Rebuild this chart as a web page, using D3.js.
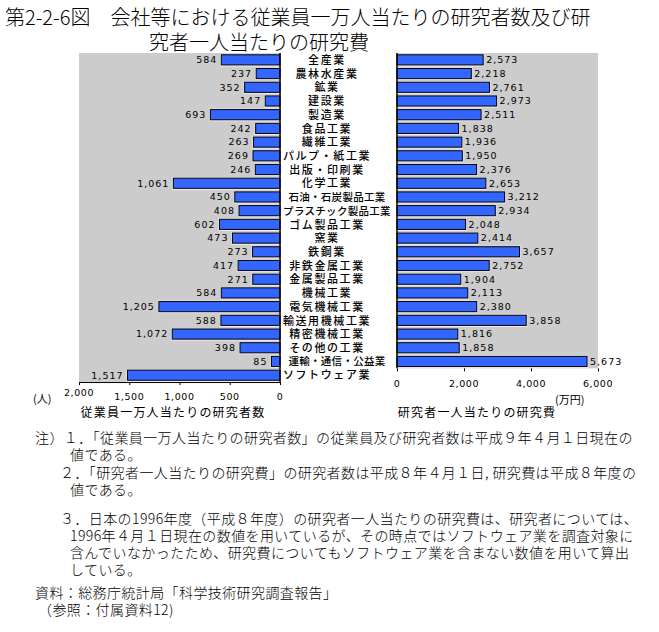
<!DOCTYPE html>
<html><head><meta charset="utf-8">
<script src="https://cdn.jsdelivr.net/npm/d3@7"></script>
<style>
body{margin:0;background:#fff}
svg{display:block}
text{font-family:"Noto Sans CJK JP","Noto Sans",sans-serif;fill:#000}
</style>
</head><body>
<svg id="c" width="659" height="632"></svg>
<script>
const categories = ["全産業","農林水産業","鉱業","建設業","製造業","食品工業","繊維工業","パルプ・紙工業","出版・印刷業","化学工業","石油・石炭製品工業","プラスチック製品工業","ゴム製品工業","窯業","鉄鋼業","非鉄金属工業","金属製品工業","機械工業","電気機械工業","輸送用機械工業","精密機械工業","その他の工業","運輸・通信・公益業","ソフトウェア業"];
const researchersPer10k = [584,237,352,147,693,242,263,269,246,1061,450,408,602,473,273,417,271,584,1205,588,1072,398,85,1517];
const costPerResearcher = [2573,2218,2761,2973,2511,1838,1936,1950,2376,2653,3212,2934,2048,2414,3657,2752,1904,2113,2380,3858,1816,1858,5673];
const leftTicks = [0,500,1000,1500,2000];
const rightTicks = [0,2000,4000,6000];
const titleLines = ["第2-2-6図　会社等における従業員一万人当たりの研究者数及び研","究者一人当たりの研究費"];
const leftAxisTitle = "従業員一万人当たりの研究者数";
const rightAxisTitle = "研究者一人当たりの研究費";
const leftUnit = "(人)";
const rightUnit = "(万円)";
const noteLines = [
 "注）１．「従業員一万人当たりの研究者数」の従業員及び研究者数は平成９年４月１日現在の",
 "値である。",
 "２．「研究者一人当たりの研究費」の研究者数は平成８年４月１日, 研究費は平成８年度の",
 "値である。",
 "３．日本の1996年度（平成８年度）の研究者一人当たりの研究費は、研究者については、",
 "1996年４月１日現在の数値を用いているが、その時点ではソフトウェア業を調査対象に",
 "含んでいなかったため、研究費についてもソフトウェア業を含まない数値を用いて算出",
 "している。",
 "資料：総務庁統計局「科学技術研究調査報告」",
 "（参照：付属資料12)"
];

const svg = d3.select("#c");
const fmt = d3.format(",");

// title
svg.append("text").attr("x",5).attr("y",25).style("font-size","20px").style("font-weight","300").text(titleLines[0]);
svg.append("text").attr("x",149).attr("y",50).style("font-size","20px").style("font-weight","300").text(titleLines[1]);

const topY = 53, step = 13.71;
const xL = d3.scaleLinear().domain([0,2000]).range([280,79]);
const xR = d3.scaleLinear().domain([0,6000]).range([397,598]);
const yL = d3.scaleBand().domain(categories).range([topY, topY+step*categories.length]).paddingInner(0.26).paddingOuter(0.13);
const rightCats = categories.slice(0,costPerResearcher.length);
const yR = d3.scaleBand().domain(rightCats).range([topY, topY+step*rightCats.length]).paddingInner(0.26).paddingOuter(0.13);

const leftData = categories.map((c,i)=>({c, v:researchersPer10k[i]}));
const rightData = rightCats.map((c,i)=>({c, v:costPerResearcher[i]}));

// panels
svg.append("rect").attr("x",xL(2000)).attr("y",yL.range()[0]).attr("width",xL(0)-xL(2000)).attr("height",yL.range()[1]-yL.range()[0]).attr("fill","#cccccc");
svg.append("rect").attr("x",xR(0)).attr("y",yR.range()[0]).attr("width",xR(6000)-xR(0)).attr("height",yR.range()[1]-yR.range()[0]).attr("fill","#cccccc");

// left bars
const gL = svg.append("g");
gL.selectAll("rect.h").data(leftData).join("rect").attr("class","h")
  .attr("x",d=>xL(d.v)-1).attr("y",d=>yL(d.c)-1).attr("width",d=>xL(0)-xL(d.v)+1).attr("height",yL.bandwidth()+2.5).attr("fill","#f4eef4");
gL.selectAll("rect.b").data(leftData).join("rect").attr("class","b")
  .attr("x",d=>xL(d.v)).attr("y",d=>yL(d.c)).attr("width",d=>xL(0)-xL(d.v)).attr("height",yL.bandwidth())
  .attr("fill","#3366ff").attr("stroke","#000").attr("stroke-width",1);
gL.selectAll("text").data(leftData).join("text")
  .attr("x",d=>xL(d.v)-4).attr("y",d=>yL(d.c)+yL.bandwidth()/2).attr("dy","0.35em")
  .attr("text-anchor","end").style("font-size","9.5px").style("font-family","DejaVu Sans").style("letter-spacing","1px")
  .text(d=>fmt(d.v));

// right bars
const gR = svg.append("g");
gR.selectAll("rect.h").data(rightData).join("rect").attr("class","h")
  .attr("x",xR(0)).attr("y",d=>yR(d.c)-1).attr("width",d=>xR(d.v)-xR(0)+1).attr("height",yR.bandwidth()+2.5).attr("fill","#f4eef4");
gR.selectAll("rect.b").data(rightData).join("rect").attr("class","b")
  .attr("x",xR(0)).attr("y",d=>yR(d.c)).attr("width",d=>xR(d.v)-xR(0)).attr("height",yR.bandwidth())
  .attr("fill","#3366ff").attr("stroke","#000").attr("stroke-width",1);
gR.selectAll("text").data(rightData).join("text")
  .attr("x",d=>xR(d.v)+3).attr("y",d=>yR(d.c)+yR.bandwidth()/2).attr("dy","0.35em")
  .attr("text-anchor","start").style("font-size","9.5px").style("font-family","DejaVu Sans").style("letter-spacing","1px")
  .text(d=>fmt(d.v));

// zero lines
svg.append("line").attr("x1",xL(0)).attr("x2",xL(0)).attr("y1",yL.range()[0]).attr("y2",yL.range()[1]).attr("stroke","#000").attr("stroke-width",1.5);
svg.append("line").attr("x1",xR(0)).attr("x2",xR(0)).attr("y1",yR.range()[0]).attr("y2",yR.range()[1]).attr("stroke","#000").attr("stroke-width",1.5);

// category labels
svg.append("g").selectAll("text").data(categories).join("text")
  .attr("x",d=>327 + (d.length>=9?10:0)).attr("y",d=>yL(d)+yL.bandwidth()/2).attr("dy","0.38em")
  .attr("text-anchor","middle")
  .style("font-size",d=>d.length>=9?"10.5px":"11px")
  .style("letter-spacing",d=>d.length>=9?"0.3px":"1.6px")
  .style("font-weight","500")
  .text(d=>d);

// left axis
const axL = d3.axisBottom(xL).tickValues(leftTicks).tickSize(3).tickSizeOuter(3).tickFormat(()=> "");
svg.append("g").attr("transform",`translate(0,${yL.range()[1]})`).call(axL)
  .call(g=>g.selectAll("path,line").attr("stroke","#000"));
svg.append("g").selectAll("text").data(leftTicks).join("text")
  .attr("x",d=>xL(d)).attr("y",d=>d===2000?396:400).attr("text-anchor","middle")
  .style("font-size","9.5px").style("font-family","DejaVu Sans").style("letter-spacing","0.6px")
  .text(d=>fmt(d));

// right axis ticks
const axR = d3.axisBottom(xR).tickValues(rightTicks).tickSize(3).tickSizeOuter(0).tickFormat(()=> "");
svg.append("g").attr("transform",`translate(0,${yR.range()[1]})`).call(axR)
  .call(g=>g.select(".domain").remove())
  .call(g=>g.selectAll("line").attr("stroke","#000"));
svg.append("g").selectAll("text").data(rightTicks).join("text")
  .attr("x",d=>xR(d)).attr("y",387).attr("text-anchor","middle")
  .style("font-size","9.5px").style("font-family","DejaVu Sans").style("letter-spacing","0.6px")
  .text(d=>fmt(d));

// axis titles
svg.append("text").attr("x",33).attr("y",403).style("font-size","11px").text(leftUnit);
svg.append("text").attr("x",555).attr("y",404).style("font-size","11px").text(rightUnit);
svg.append("text").attr("x",173).attr("y",417).attr("text-anchor","middle").style("font-size","12px").style("letter-spacing","1.2px").text(leftAxisTitle);
svg.append("text").attr("x",477).attr("y",417).attr("text-anchor","middle").style("font-size","12px").style("letter-spacing","1.2px").text(rightAxisTitle);

// notes
const noteX = [35,70,60,70,60,70,70,70,35,38];
const noteY = [443,460,478,495,524,541,558,575,598,615];
svg.append("g").selectAll("text").data(noteLines).join("text")
  .attr("x",(d,i)=>noteX[i]).attr("y",(d,i)=>noteY[i])
  .style("font-size","14px").style("letter-spacing","0.4px").style("font-weight","300")
  .text(d=>d);
</script>
</body></html>
